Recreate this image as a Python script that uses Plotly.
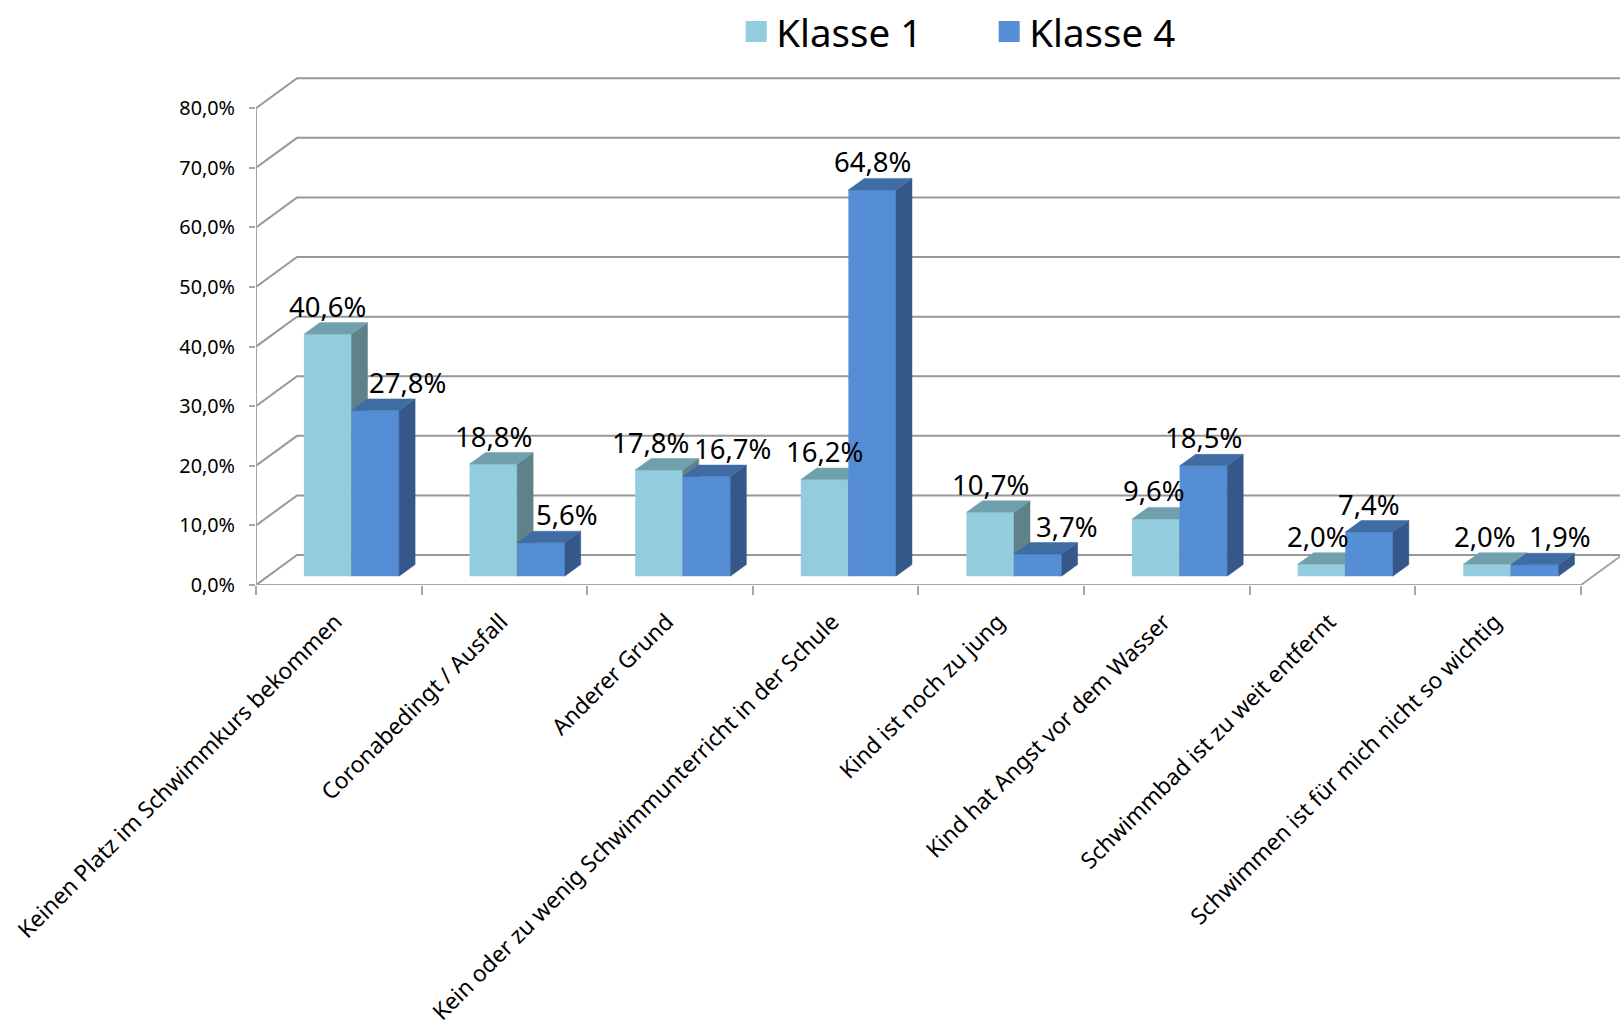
import plotly.graph_objects as go

categories = [
    "Keinen Platz im Schwimmkurs bekommen",
    "Coronabedingt / Ausfall",
    "Anderer Grund",
    "Kein oder zu wenig Schwimmunterricht in der Schule",
    "Kind ist noch zu jung",
    "Kind hat Angst vor dem Wasser",
    "Schwimmbad ist zu weit entfernt",
    "Schwimmen ist für mich nicht so wichtig",
]
klasse_1 = [40.6, 18.8, 17.8, 16.2, 10.7, 9.6, 2.0, 2.0]
klasse_4 = [27.8, 5.6, 16.7, 64.8, 3.7, 18.5, 7.4, 1.9]
y_ticks = [0, 10, 20, 30, 40, 50, 60, 70, 80]
y_tick_labels = ["0,0%", "10,0%", "20,0%", "30,0%", "40,0%", "50,0%", "60,0%", "70,0%", "80,0%"]

# label nudges in px
shift_1 = [0, 0, -8, 0, 0, -2, -3, -2]
shift_4 = [32, 26, 26, 0, 29, 0, 0, 25]

# layout geometry
W, H = 1620, 1027
X0, Y0 = 255.7, 586.7          # pixel of category 0 / value 0
PX_CAT = 165.66                # px per category
PX_VAL = 6.05                  # px per percentage point
x_max = (W - X0) / PX_CAT
y_max = Y0 / PX_VAL
WALL_X, WALL_Y = 41 / PX_CAT, 30.4 / PX_VAL     # depth of chart box
BAR_X, BAR_Y = 16 / PX_CAT, 11.7 / PX_VAL       # depth of a bar
FLOOR = 9 / PX_VAL                              # front of bars above axis line
BAR_W = 47.6 / PX_CAT
GROUP_SHIFT = 12.7 / PX_CAT

FONT = "Noto Sans"
GRID = "#989898"
AXIS = "#A6A6A6"
C1 = ("#93CDDD", "#71A0AD", "#5F8189")
C4 = ("#558ED5", "#3F6CA3", "#34588A")


def faces(xs, vals):
    top_x, top_y, side_x, side_y = [], [], [], []
    for cx, v in zip(xs, vals):
        l, r = cx - BAR_W / 2, cx + BAR_W / 2
        t = FLOOR + v
        top_x += [l, l + BAR_X, r + BAR_X, r, l, None]
        top_y += [t, t + BAR_Y, t + BAR_Y, t, t, None]
        side_x += [r, r + BAR_X, r + BAR_X, r, r, None]
        side_y += [t, t + BAR_Y, FLOOR + BAR_Y, FLOOR, t, None]
    return top_x, top_y, side_x, side_y


def add_series(fig, xs, vals, colors, name, xa, ya):
    fig.add_trace(go.Bar(
        x=xs, y=vals, base=[FLOOR] * len(vals), width=BAR_W, name=name,
        marker=dict(color=colors[0], line=dict(width=0)),
        showlegend=False, xaxis=xa, yaxis=ya,
        hovertemplate=name + ": %{y:.1f}%<extra></extra>",
    ))
    tx, ty, sx, sy = faces(xs, vals)
    for fx, fy, col in ((sx, sy, colors[2]), (tx, ty, colors[1])):
        fig.add_trace(go.Scatter(
            x=fx, y=fy, mode="lines", fill="toself", fillcolor=col,
            line=dict(color=col, width=0.5), hoverinfo="skip",
            showlegend=False, xaxis=xa, yaxis=ya,
        ))


fig = go.Figure()

# Chart box: back wall and side lines
for v in y_ticks:
    fig.add_trace(go.Scatter(
        x=[0, WALL_X, x_max], y=[v, v + WALL_Y, v + WALL_Y], mode="lines",
        line=dict(color=GRID, width=2), hoverinfo="skip", showlegend=False,
    ))
fig.add_trace(go.Scatter(
    x=[0, 0, None, 0, 8, 8 + WALL_X], y=[0, 80, None, 0, 0, WALL_Y], mode="lines",
    line=dict(color=AXIS, width=2), hoverinfo="skip", showlegend=False,
))

centres = [i + 0.5 + GROUP_SHIFT for i in range(len(categories))]
x1 = [c - BAR_W / 2 for c in centres]
x4 = [c + BAR_W / 2 for c in centres]
add_series(fig, x1, klasse_1, C1, "Klasse 1", "x2", "y2")
add_series(fig, x4, klasse_4, C4, "Klasse 4", "x3", "y3")

# Legend entries
for name, col in (("Klasse 1", C1[0]), ("Klasse 4", C4[0])):
    fig.add_trace(go.Scatter(
        x=[None], y=[None], mode="markers", name=name,
        marker=dict(symbol="square", size=16, color=col, line=dict(color=col, width=5)),
    ))

# Data labels
annotations = []
for xs, vals, shifts in ((x1, klasse_1, shift_1), (x4, klasse_4, shift_4)):
    for x, v, s in zip(xs, vals, shifts):
        annotations.append(dict(
            x=x, y=FLOOR + v, xref="x", yref="y", showarrow=False,
            text=f"{v:.1f}%".replace(".", ","), xanchor="center", yanchor="middle",
            xshift=s, yshift=28, font=dict(family=FONT, size=27.5, color="#000000"),
        ))

fig.update_layout(
    width=W, height=H, autosize=False,
    margin=dict(l=X0, r=0, t=0, b=H - Y0, pad=0),
    paper_bgcolor="white", plot_bgcolor="white",
    barmode="overlay",
    font=dict(family=FONT, color="#000000"),
    annotations=annotations,
    legend=dict(
        orientation="h", x=(736 - X0) / (W - X0), xanchor="left",
        y=1 - 25 / Y0, yanchor="middle",
        font=dict(family=FONT, size=38.5, color="#000000"),
        itemwidth=30, entrywidth=208, entrywidthmode="pixels",
        bgcolor="rgba(0,0,0,0)",
    ),
    xaxis=dict(
        range=[0, x_max], showgrid=False, zeroline=False, showline=False,
        tickmode="array", tickvals=[i + 0.48 for i in range(8)], ticktext=categories,
        tickangle=-45, ticks="", tickfont=dict(family=FONT, size=22.7, color="#000000"),
        ticklabelstandoff=18,
        minor=dict(tickmode="array", tickvals=list(range(9)), ticks="outside",
                   ticklen=9, tickwidth=2, tickcolor=AXIS, showgrid=False),
    ),
    yaxis=dict(
        range=[0, y_max], showgrid=False, zeroline=False, showline=False,
        tickmode="array", tickvals=y_ticks, ticktext=y_tick_labels,
        ticks="outside", ticklen=6, tickwidth=2, tickcolor=AXIS,
        tickfont=dict(family=FONT, size=19.8, color="#000000"),
        ticklabelstandoff=10,
    ),
    xaxis2=dict(overlaying="x", range=[0, x_max], visible=False),
    yaxis2=dict(overlaying="y", range=[0, y_max], visible=False),
    xaxis3=dict(overlaying="x", range=[0, x_max], visible=False),
    yaxis3=dict(overlaying="y", range=[0, y_max], visible=False),
)

fig.write_html("out.html", config={"displayModeBar": False},
               post_script="document.body.style.margin='0';")
